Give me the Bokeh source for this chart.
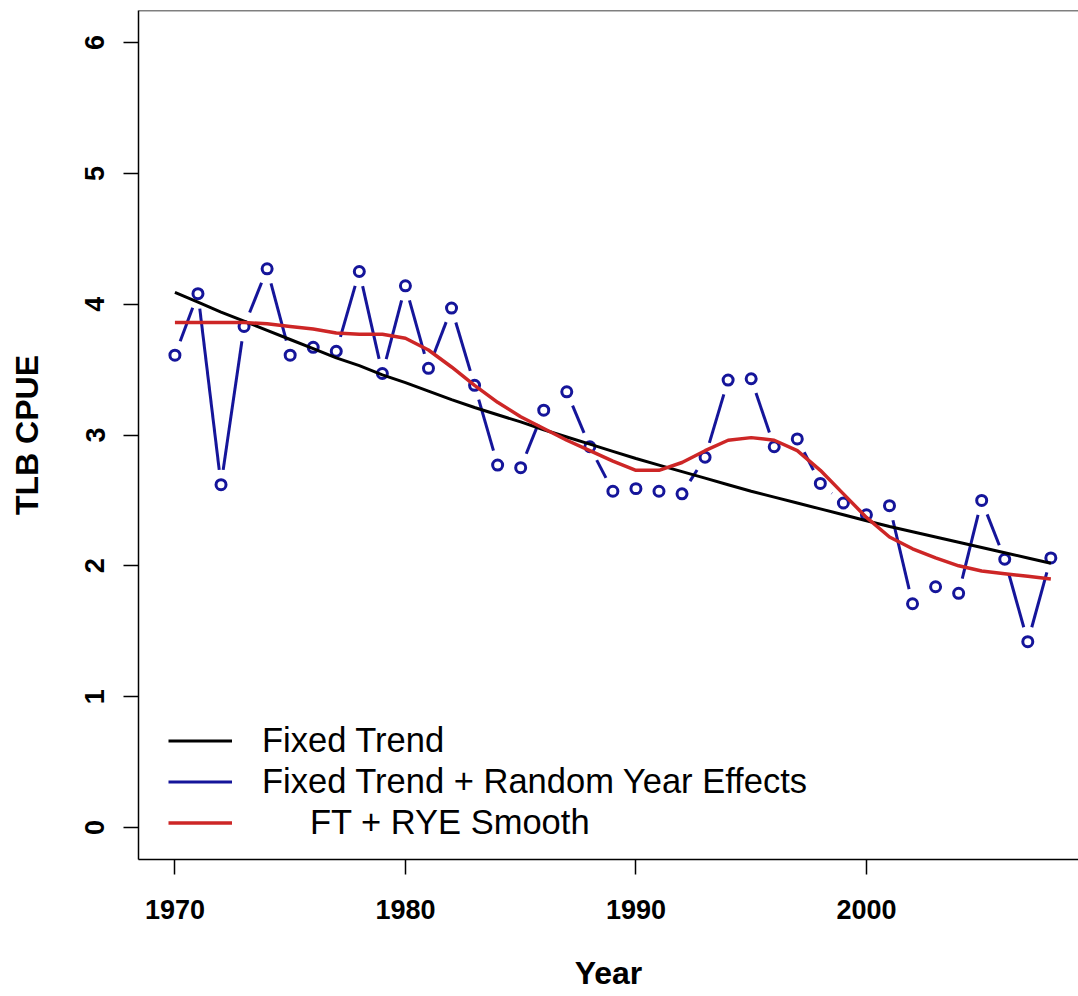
import math
from bokeh.plotting import figure
from bokeh.models import Range1d, FixedTicker, Span, Legend, LegendItem, ColumnDataSource
from bokeh.embed import file_html
from bokeh.resources import INLINE

# ---- data ----
years = list(range(1970, 2009))
cpue = [3.61, 4.08, 2.62, 3.83, 4.27, 3.61, 3.67, 3.64, 4.25, 3.47,
        4.14, 3.51, 3.97, 3.38, 2.77, 2.75, 3.19, 3.33, 2.91, 2.57,
        2.59, 2.57, 2.55, 2.83, 3.42, 3.43, 2.91, 2.97, 2.63, 2.48,
        2.39, 2.46, 1.71, 1.84, 1.79, 2.50, 2.05, 1.42, 2.06]
trend = [4.09, 4.015, 3.94, 3.87, 3.80, 3.73, 3.66, 3.59, 3.53, 3.46,
         3.40, 3.335, 3.27, 3.21, 3.155, 3.10, 3.04, 2.985, 2.93, 2.875,
         2.82, 2.77, 2.72, 2.67, 2.62, 2.57, 2.525, 2.48, 2.435, 2.39,
         2.345, 2.30, 2.26, 2.22, 2.18, 2.14, 2.10, 2.06, 2.02]
smooth = [3.86, 3.86, 3.86, 3.86, 3.85, 3.83, 3.81, 3.78, 3.77, 3.77,
          3.74, 3.65, 3.52, 3.38, 3.25, 3.14, 3.05, 2.96, 2.88, 2.80,
          2.73, 2.73, 2.79, 2.88, 2.96, 2.98, 2.96, 2.88, 2.73, 2.55,
          2.37, 2.22, 2.13, 2.06, 2.00, 1.96, 1.94, 1.92, 1.90]
x_ticks = [1970, 1980, 1990, 2000]
y_ticks = [0, 1, 2, 3, 4, 5, 6]
labels = ["Fixed Trend", "Fixed Trend + Random Year Effects",
          "\u00a0" * 5 + "FT + RYE Smooth"]

# ---- figure ----
X0, X1 = 1968.42, 2009.2
Y0, Y1 = -0.245, 6.245
FW, FH = 940, 849
FONT = "Liberation Sans"

BLUE = "#15159a"
RED = "#cd2626"

p = figure(frame_width=FW, frame_height=FH,
           x_range=Range1d(X0, X1), y_range=Range1d(Y0, Y1),
           output_backend="svg", toolbar_location=None,
           min_border_left=138, min_border_right=0,
           min_border_top=10, min_border_bottom=137)
p.background_fill_color = "white"
p.border_fill_color = "white"
p.outline_line_color = None
p.grid.visible = False

for ax in (p.xaxis[0], p.yaxis[0]):
    ax.axis_line_width = 1.5
    ax.axis_line_color = "black"
    ax.major_tick_line_width = 1.5
    ax.major_tick_line_color = "black"
    ax.major_tick_out = 15
    ax.major_tick_in = 0
    ax.minor_tick_out = 0
    ax.minor_tick_in = 0
    ax.major_label_text_font = FONT
    ax.major_label_text_font_style = "bold"
    ax.major_label_text_font_size = "27px"
    ax.major_label_text_color = "black"
    ax.axis_label_text_font = FONT
    ax.axis_label_text_font_style = "bold"
    ax.axis_label_text_font_size = "32px"
    ax.axis_label_text_color = "black"

p.xaxis.ticker = FixedTicker(ticks=x_ticks)
p.yaxis.ticker = FixedTicker(ticks=y_ticks)
p.xaxis.axis_label = "Year"
p.yaxis.axis_label = "TLB CPUE"
p.xaxis.major_label_standoff = 25
p.xaxis.axis_label_standoff = 33
p.yaxis.major_label_standoff = 19
p.yaxis.major_label_orientation = "vertical"
p.yaxis.axis_label_standoff = 38

# top edge of the box
p.add_layout(Span(location=Y1, dimension="width", line_color="black", line_width=1.5))

# ---- blue: lines with gaps around points (R type="b") ----
sx = FW / (X1 - X0)
sy = FH / (Y1 - Y0)
GAP = 15.0
x0s, y0s, x1s, y1s = [], [], [], []
for i in range(len(years) - 1):
    xa, ya, xb, yb = years[i], cpue[i], years[i + 1], cpue[i + 1]
    dxp = (xb - xa) * sx
    dyp = (yb - ya) * sy
    L = math.hypot(dxp, dyp)
    if L > 2 * GAP:
        t = GAP / L
        x0s.append(xa + t * (xb - xa)); y0s.append(ya + t * (yb - ya))
        x1s.append(xb - t * (xb - xa)); y1s.append(yb - t * (yb - ya))
seg_src = ColumnDataSource(dict(x0=x0s, y0=y0s, x1=x1s, y1=y1s))
blue_seg = p.segment("x0", "y0", "x1", "y1", source=seg_src,
                     line_color=BLUE, line_width=3)
p.scatter(years, cpue, size=10, marker="circle", fill_color=None,
          line_color=BLUE, line_width=3)

black_line = p.line(years, trend, line_color="black", line_width=3)
red_line = p.line(years, smooth, line_color=RED, line_width=3.5)

legend = Legend(items=[LegendItem(label=labels[0], renderers=[black_line]),
                       LegendItem(label=labels[1], renderers=[blue_seg]),
                       LegendItem(label=labels[2], renderers=[red_line])],
                location=(30, 16), orientation="vertical",
                glyph_width=64, glyph_height=41, label_height=41,
                spacing=0, padding=0, margin=0, label_standoff=30,
                label_text_font=FONT, label_text_font_size="34.5px",
                label_text_color="black",
                background_fill_alpha=0, border_line_alpha=0)
p.add_layout(legend)

open("out.html", "w").write(file_html(p, INLINE))
